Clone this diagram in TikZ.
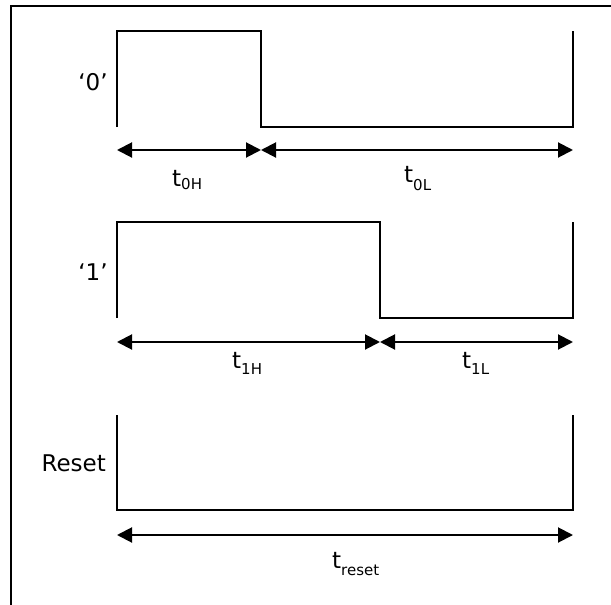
\documentclass[tikz,border=0pt]{standalone}
\usepackage{fontspec}
\setmainfont{DejaVu Sans}
\usetikzlibrary{arrows.meta}
\newcommand\tsub[2]{t\raisebox{-#2}{\fontsize{15}{15}\selectfont #1}}
\tikzset{
  sig/.style={line width=2pt, line join=miter},
  dim/.style={line width=2pt, {Triangle[length=15pt,width=15pt]}-{Triangle[length=15pt,width=15pt]}},
  frame/.style={line width=2.8pt},
  lbl/.style={inner sep=0pt, font=\fontsize{23}{27}\selectfont},
}
\begin{document}
\begin{tikzpicture}[x=1pt,y=-1pt]
\useasboundingbox (0,0) rectangle (611,605);
% frame (clipped by page)
\coordinate (fTR) at (613,6);
\coordinate (fTL) at (11,6);
\coordinate (fBL) at (11,607);
\draw[frame] (fTR) -- (fTL) -- (fBL);

% '0' waveform
\coordinate (a1) at (117,127);
\coordinate (a2) at (117,31);
\coordinate (a3) at (261,31);
\coordinate (a4) at (261,127);
\coordinate (a5) at (573,127);
\coordinate (a6) at (573,31);
\draw[sig] (a1) -- (a2) -- (a3) -- (a4) -- (a5) -- (a6);
\coordinate (da1) at (117,150);
\coordinate (da2) at (261,150);
\coordinate (da3) at (573,150);
\draw[dim] (da1) -- (da2);
\draw[dim] (da2) -- (da3);
\node[lbl] (l0) at (93,82) {‘0’};
\node[lbl, anchor=base west] (t0H) at (172,186) {\tsub{0H}{3pt}};
\node[lbl, anchor=base west] (t0L) at (404,182) {\tsub{0L}{8pt}};

% '1' waveform
\coordinate (b1) at (117,318);
\coordinate (b2) at (117,222);
\coordinate (b3) at (380,222);
\coordinate (b4) at (380,318);
\coordinate (b5) at (573,318);
\coordinate (b6) at (573,222);
\draw[sig] (b1) -- (b2) -- (b3) -- (b4) -- (b5) -- (b6);
\coordinate (db1) at (117,342);
\coordinate (db2) at (380,342);
\coordinate (db3) at (573,342);
\draw[dim] (db1) -- (db2);
\draw[dim] (db2) -- (db3);
\node[lbl] (l1) at (93,272) {‘1’};
\node[lbl, anchor=base west] (t1H) at (232,368) {\tsub{1H}{6pt}};
\node[lbl, anchor=base west] (t1L) at (462,368) {\tsub{1L}{6pt}};

% Reset
\coordinate (c1) at (117,415);
\coordinate (c2) at (117,510);
\coordinate (c3) at (573,510);
\coordinate (c4) at (573,415);
\draw[sig] (c1) -- (c2) -- (c3) -- (c4);
\coordinate (dc1) at (117,535);
\coordinate (dc2) at (573,535);
\draw[dim] (dc1) -- (dc2);
\node[lbl, anchor=east] (lr) at (106,463) {Reset};
\node[lbl, anchor=base west] (tr) at (332,568) {\tsub{reset}{7pt}};
\end{tikzpicture}
\end{document}
